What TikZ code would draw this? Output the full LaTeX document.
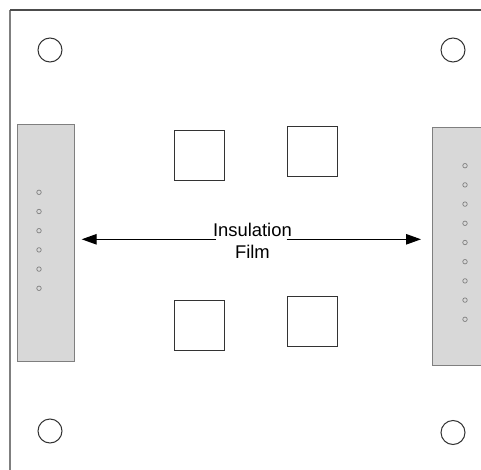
\documentclass[tikz,border=0pt]{standalone}
\usepackage{fontspec}
\setmainfont{Liberation Sans}
\usetikzlibrary{arrows.meta}
\definecolor{padgray}{HTML}{D8D8D8}
\definecolor{edgegray}{HTML}{7F7F7F}
\tikzset{
  hole/.style={circle,draw=black!80,line width=1pt,inner sep=0pt,minimum size=24pt},
  chip/.style={rectangle,draw=black!80,line width=1pt,inner sep=0pt,minimum size=50pt},
  pad/.style={rectangle,draw=edgegray,fill=padgray,line width=1pt,inner sep=0pt},
  pin/.style={circle,draw=edgegray,line width=0.7pt,inner sep=0pt,minimum size=4.5pt},
  film/.style={-{Triangle[length=15pt,width=10.5pt]},line width=1pt}
}
\begin{document}
\begin{tikzpicture}[x=1pt,y=-1pt]
\clip (0,0) rectangle (481,470);
\fill[white] (0,0) rectangle (481,470);
\coordinate (cornerA) at (10,470);
\coordinate (cornerB) at (10,10);
\coordinate (cornerC) at (481,10);
\draw[edgegray,line width=1.6pt] (cornerA) -- (cornerB);
\draw[black!70,line width=1.1pt] (cornerB) -- (cornerC);
\node[hole] (holeA) at (50,50) {};
\node[hole] (holeB) at (453,50) {};
\node[hole] (holeC) at (50,431) {};
\node[hole] (holeD) at (453,432.5) {};
\node[pad,minimum width=57pt,minimum height=237.5pt] (padL) at (45.5,243) {};
\node[pad,minimum width=70pt,minimum height=238pt] (padR) at (467.3,246.2) {};
\foreach \i in {0,...,5} \node[pin] (pinL\i) at (39,192.3+19.2*\i) {};
\foreach \i in {0,...,8} \node[pin] (pinR\i) at (465,165.7+19.2*\i) {};
\node[chip] (chipA) at (199,156) {};
\node[chip] (chipB) at (312,152) {};
\node[chip] (chipC) at (199.3,325.3) {};
\node[chip] (chipD) at (312.2,321.2) {};
\node[align=center,font=\fontsize{18.4pt}{22pt}\selectfont,inner sep=0pt] (label) at (252.4,241) {Insulation\\Film};
\coordinate (filmL) at (216,239.3);
\coordinate (filmR) at (286.7,239.3);
\coordinate (tipL) at (81.7,239.3);
\coordinate (tipR) at (421,239.3);
\draw[film] (filmL) -- (tipL);
\draw[film] (filmR) -- (tipR);
\end{tikzpicture}
\end{document}
